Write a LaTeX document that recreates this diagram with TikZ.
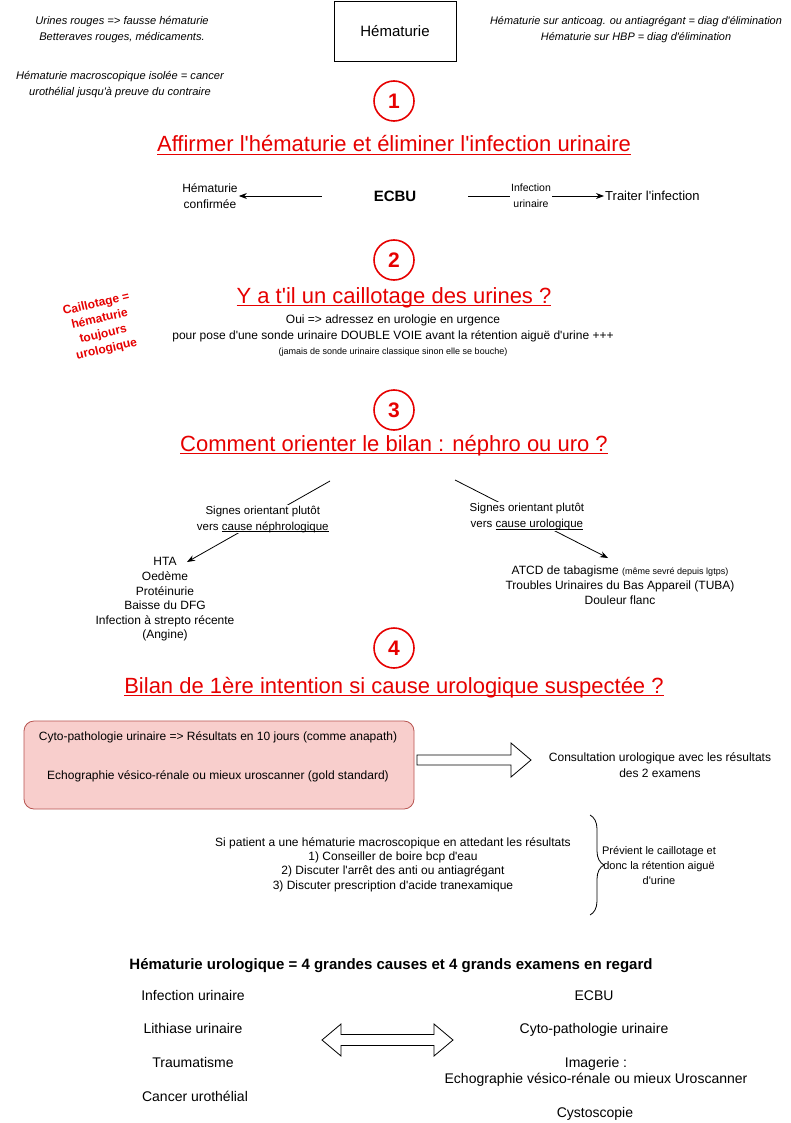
\documentclass[tikz,border=0pt]{standalone}
\usepackage{fontspec}
\setmainfont{Liberation Sans}[Ligatures=TeXOff]
\usetikzlibrary{arrows.meta,decorations.pathreplacing}
\definecolor{myred}{RGB}{230,0,0}
\definecolor{pinkfill}{RGB}{248,206,204}
\definecolor{pinkdraw}{RGB}{184,84,80}
\newcommand{\fs}[2]{\fontsize{#1}{#2}\selectfont}
\newsavebox{\ulbox}
\newcommand{\tul}[1]{\sbox{\ulbox}{#1}\rlap{\rule[-3.4pt]{\wd\ulbox}{1.6pt}}\usebox{\ulbox}}
\newcommand{\sul}[1]{\sbox{\ulbox}{#1}\rlap{\rule[-2.2pt]{\wd\ulbox}{0.8pt}}\usebox{\ulbox}}
\tikzset{
  txt/.style={align=center, inner sep=1pt, font=\fs{12}{14.6}},
  note/.style={align=center, inner sep=1pt, font=\fs{11.1}{16}\itshape},
  small/.style={align=center, inner sep=1pt, font=\fs{12}{14.3}},
  ttl/.style={anchor=base, inner sep=0pt, text=myred, font=\fs{22}{24}},
  num/.style={circle, draw=myred, line width=1.6pt, minimum size=40pt, inner sep=0pt, text=myred, font=\fs{21}{24}\bfseries},
  arr/.style={-{Stealth[length=8pt,width=6pt]}, line width=0.8pt},
  ln/.style={line width=0.8pt},
  lbl/.style={fill=white, align=center, inner sep=1pt, font=\fs{11.5}{16}},
  big/.style={align=center, inner sep=1pt, font=\fs{14}{16}},
  blockarr/.style={line width=0.8pt, fill=white},
}
\begin{document}
\begin{tikzpicture}[x=1pt,y=-1pt]
\useasboundingbox[fill=white] (0,0) rectangle (790,1123);

% header
\node[note] (n1) at (122,30) {Urines rouges => fausse hématurie\\Betteraves rouges, médicaments.};
\node[note] (n2) at (120,85) {Hématurie macroscopique isolée = cancer\\urothélial jusqu'à preuve du contraire};
\node[draw, line width=0.8pt, minimum width=122pt, minimum height=60pt, font=\fs{15}{18}] (hem) at (395,31) {Hématurie};
\node[note, font=\fs{10.9}{16}\itshape] (n3) at (636,30) {Hématurie sur anticoag. ou antiagrégant = diag d'élimination\\Hématurie sur HBP = diag d'élimination};

% step 1
\node[num] (c1) at (394,101) {1};
\node[ttl] (t1) at (394,152) {\tul{Affirmer l'hématurie et éliminer l'infection urinaire}};
\node[font=\fs{15}{18}\bfseries, minimum width=146pt, inner sep=0pt] (ecbu) at (395,196) {ECBU};
\node[txt, font=\fs{12}{16}] (hc) at (210,196) {Hématurie\\confirmée};
\node[align=center, inner sep=1pt, font=\fs{10.5}{16}] (inf) at (531,196) {Infection\\urinaire};
\node[txt, font=\fs{13}{15}, anchor=west] (trait) at (604,196) {Traiter l'infection};
\draw[arr] (ecbu.west) -- (hc.east);
\draw[ln] (ecbu.east) -- (inf.west);
\draw[arr] (inf.east) -- (trait.west);

% step 2
\node[num] (c2) at (394,260) {2};
\node[ttl] (t2) at (394,303) {\tul{Y a t'il un caillotage des urines ?}};
\node[txt, font=\fs{12}{16}] (oui) at (393,328) {Oui => adressez en urologie en urgence\\pour pose d'une sonde urinaire DOUBLE VOIE avant la rétention aiguë d'urine +++};
\node[txt, font=\fs{9}{10}] (jam) at (393,352) {(jamais de sonde urinaire classique sinon elle se bouche)};
\node[align=center, text=myred, rotate=13, inner sep=0pt, font=\fs{12}{15.5}\bfseries] (cail) at (101.5,327) {Caillotage =\\hématurie\\toujours\\urologique};

% step 3
\node[num] (c3) at (394,410) {3};
\node[ttl] (t3) at (394,451) {\tul{Comment orienter le bilan : néphro ou uro ?}};
\coordinate (ls) at (330,481);
\coordinate (le) at (187,562);
\coordinate (rs) at (455,480);
\coordinate (re) at (608,558);
\draw[arr] (ls) -- node[lbl, pos=0.47] (lnl) {Signes orientant plutôt\\vers \sul{cause néphrologique}} (le);
\draw[arr] (rs) -- node[lbl, pos=0.47] (lnr) {Signes orientant plutôt\\vers \sul{cause urologique}} (re);
\node[txt] (lst1) at (165,599.5) {HTA\\Oedème\\Protéinurie\\Baisse du DFG\\Infection à strepto récente\\(Angine)};
\node[txt, font=\fs{12}{15}] (lst2) at (620,585) {ATCD de tabagisme {\fs{9}{15}(même sevré depuis lgtps)}\\Troubles Urinaires du Bas Appareil (TUBA)\\Douleur flanc};

% step 4
\node[num] (c4) at (394,648) {4};
\node[ttl] (t4) at (394,693) {\tul{Bilan de 1ère intention si cause urologique suspectée ?}};
\node[draw=pinkdraw, fill=pinkfill, rounded corners=10pt, line width=0.8pt, minimum width=390pt, minimum height=88pt] (box) at (219,765) {};
\node[small] (b1) at (218,737) {Cyto-pathologie urinaire => Résultats en 10 jours (comme anapath)};
\node[small] (b2) at (218,776) {Echographie vésico-rénale ou mieux uroscanner (gold standard)};
\draw[blockarr] (417,755) -- (511,755) -- (511,743) -- (531,760) -- (511,777) -- (511,765) -- (417,765) -- cycle;
\node[small, font=\fs{12}{16}] (cons) at (660,765) {Consultation urologique avec les résultats\\des 2 examens};

\node[small] (si) at (393,864.5) {Si patient a une hématurie macroscopique en attedant les résultats\\1) Conseiller de boire bcp d'eau\\2) Discuter l'arrêt des anti ou antiagrégant\\3) Discuter prescription d'acide tranexamique};
\coordinate (bt) at (590,815);
\coordinate (bb) at (590,915);
\draw[line width=0.8pt, decorate, decoration={brace, amplitude=14pt}] (bt) -- (bb);
\node[small, font=\fs{11}{15}] (prev) at (659,865) {Prévient le caillotage et\\donc la rétention aiguë\\d'urine};

% bottom
\node[inner sep=1pt, font=\fs{15}{16}\bfseries] (hu) at (391,966) {Hématurie urologique = 4 grandes causes et 4 grands examens en regard};
\node[big] (l1) at (193,995) {Infection urinaire};
\node[big] (l2) at (193,1028) {Lithiase urinaire};
\node[big] (l3) at (193,1062) {Traumatisme};
\node[big] (l4) at (195,1096) {Cancer urothélial};
\node[big] (r1) at (594,996) {ECBU};
\node[big] (r2) at (594,1030) {Cyto-pathologie urinaire};
\node[big] (r3) at (596,1072) {Imagerie :\\Echographie vésico-rénale ou mieux Uroscanner};
\node[big] (r4) at (595,1114) {Cystoscopie};
\draw[blockarr] (322,1040) -- (341,1024) -- (341,1034.5) -- (434,1034.5) -- (434,1024) -- (453,1040) -- (434,1056) -- (434,1045.5) -- (341,1045.5) -- (341,1056) -- cycle;
\end{tikzpicture}
\end{document}
